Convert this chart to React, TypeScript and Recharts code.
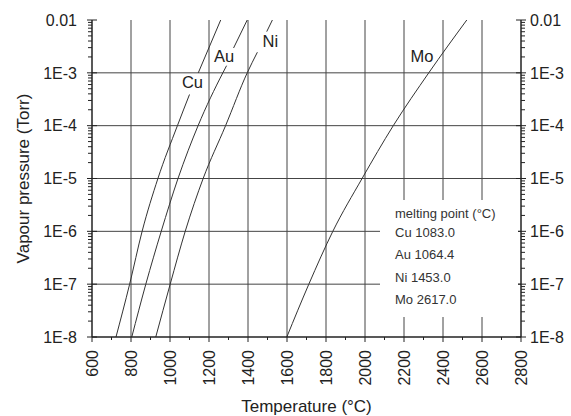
import { LineChart, Line, XAxis, YAxis, ReferenceLine, Legend, LabelList } from 'recharts'

const tempMajor = [600, 800, 1000, 1200, 1400, 1600, 1800, 2000, 2200, 2400, 2600, 2800]
const tempMinor = [700, 900, 1100, 1300, 1500, 1700, 1900, 2100, 2300, 2500, 2700]
const decadeExps = [-8, -7, -6, -5, -4, -3, -2]
const decadeLabels = ['1E-8', '1E-7', '1E-6', '1E-5', '1E-4', '1E-3', '0.01']
const gridTemps = [800, 1000, 1200, 1400, 1600, 1800, 2000, 2200, 2400, 2600]
const gridExps = [-7, -6, -5, -4, -3]

// vapour pressure curves: temperature (°C) vs log10(p / Torr)
// the lower/upper pieces leave a gap where the element name sits
const cuTemp = [723, 793, 857, 938, 1038, 1100]
const cuLogP = [-8, -7, -6, -5, -4, -3.41]
const cuTopTemp = [1145, 1260]
const cuTopLogP = [-3.0, -2.0]
const auTemp = [804, 876, 955, 1041, 1144, 1271, 1290]
const auLogP = [-8, -7, -6, -5, -4, -3, -2.865]
const auTopTemp = [1326, 1396]
const auTopLogP = [-2.53, -2.0]
const niTemp = [927, 1001, 1078, 1170, 1285, 1396, 1448]
const niLogP = [-8, -7, -6, -5, -4, -3, -2.61]
const niTopTemp = [1496, 1525]
const niTopLogP = [-2.22, -2.0]
const moTemp = [1599, 1712, 1835, 1985, 2145, 2327, 2522]
const moLogP = [-8, -7, -6, -5, -4, -3, -2]

const metals = ['Cu', 'Au', 'Ni', 'Mo']
const meltingPoints = ['1083.0', '1064.4', '1453.0', '2617.0']

const font = '"Liberation Sans", Arial, sans-serif'
const textColor = '#222'
const axisColor = '#222'
const gridColor = '#444'
const curveColor = '#333'

const zip = (ts: number[], ps: number[]) => ts.map((t, i) => ({ t, p: ps[i] }))

const curves = [
  { name: 'Cu', lower: zip(cuTemp, cuLogP), upper: zip(cuTopTemp, cuTopLogP), labelAt: 5, dx: 3, dy: -12.8 },
  { name: 'Au', lower: zip(auTemp, auLogP), upper: zip(auTopTemp, auTopLogP), labelAt: 6, dx: -2.5, dy: -9.7 },
  { name: 'Ni', lower: zip(niTemp, niLogP), upper: zip(niTopTemp, niTopLogP), labelAt: 6, dx: 13, dy: -11 },
  { name: 'Mo', lower: zip(moTemp, moLogP), upper: null, labelAt: 5, dx: -6.7, dy: -16.3 },
]

// log axis ticks: every 1..9 x 10^n, expressed as exponents
const yTicks = decadeExps.flatMap((n) =>
  n === -2 ? [n] : [1, 2, 3, 4, 5, 6, 7, 8, 9].map((k) => n + Math.log10(k))
)
const xTicks = [...tempMajor, ...tempMinor].sort((a, b) => a - b)

const isDecade = (v: number) => Math.abs(v - Math.round(v)) < 1e-6
const decadeLabel = (v: number) => decadeLabels[decadeExps.indexOf(Math.round(v))]

function LeftTick({ x, y, payload }: any) {
  const major = isDecade(payload.value)
  return (
    <g>
      <line x1={x - (major ? 5 : 4)} x2={major ? x + 5 : x} y1={y} y2={y} stroke={axisColor} />
      {major && (
        <text x={x - 15} y={y} dy="0.36em" textAnchor="end" fontSize={16} fill={textColor} fontFamily={font}>
          {decadeLabel(payload.value)}
        </text>
      )}
    </g>
  )
}

function RightTick({ x, y, payload }: any) {
  const major = isDecade(payload.value)
  return (
    <g>
      <line x1={major ? x - 5 : x} x2={x + (major ? 5 : 4)} y1={y} y2={y} stroke={axisColor} />
      {major && (
        <text x={x + 9} y={y} dy="0.36em" textAnchor="start" fontSize={16} fill={textColor} fontFamily={font}>
          {decadeLabel(payload.value)}
        </text>
      )}
    </g>
  )
}

function BottomTick({ x, y, payload }: any) {
  const major = payload.value % 200 === 0
  return (
    <g>
      <line x1={x} x2={x} y1={y} y2={y + (major ? 5 : 3)} stroke={axisColor} />
      {major && (
        <text
          x={x}
          y={y + 13}
          dy="0.36em"
          textAnchor="end"
          transform={`rotate(-90 ${x} ${y + 13})`}
          fontSize={16}
          fill={textColor}
          fontFamily={font}
        >
          {payload.value}
        </text>
      )}
    </g>
  )
}

function TopTick({ x, y, payload }: any) {
  const major = payload.value % 200 === 0
  return <line x1={x} x2={x} y1={y} y2={y - (major ? 5 : 3)} stroke={axisColor} />
}

function YTitle({ viewBox }: any) {
  const cx = viewBox.x + 23
  const cy = viewBox.y + viewBox.height / 2
  return (
    <text
      x={cx}
      y={cy}
      dy="0.36em"
      textAnchor="middle"
      transform={`rotate(-90 ${cx} ${cy})`}
      fontSize={17}
      fill={textColor}
      fontFamily={font}
    >
      Vapour pressure (Torr)
    </text>
  )
}

function MeltingLegend() {
  return (
    <div
      style={{
        background: '#fff',
        width: 138,
        height: 117,
        boxSizing: 'border-box',
        padding: '6px 0 0 15px',
        fontSize: 13,
        color: '#333',
        fontFamily: font,
        textAlign: 'left',
      }}
    >
      <div style={{ lineHeight: '16px' }}>melting point (°C)</div>
      {metals.map((m, i) => (
        <div key={m} style={{ lineHeight: '22.3px' }}>
          {m} {meltingPoints[i]}
        </div>
      ))}
    </div>
  )
}

const curveLabel = (name: string, at: number, dx: number, dy: number) => (props: any) =>
  props.index === at ? (
    <text
      x={props.x + dx}
      y={props.y + dy}
      dy="0.36em"
      textAnchor="middle"
      fontSize={16.5}
      fill={textColor}
      fontFamily={font}
    >
      {name}
    </text>
  ) : null

export default function App() {
  return (
    <div style={{ position: 'absolute', left: 0, top: 0, width: 571, height: 416, background: '#fff' }}>
      <LineChart width={571} height={416} margin={{ top: 20, right: 0, bottom: 0, left: 0 }}>
        <XAxis
          dataKey="t"
          type="number"
          domain={[600, 2800]}
          ticks={xTicks}
          interval={0}
          allowDataOverflow
          height={79}
          tickSize={0}
          tickMargin={0}
          tickLine={false}
          tick={<BottomTick />}
          axisLine={{ stroke: axisColor, strokeWidth: 1.5 }}
          label={{ value: 'Temperature (°C)', position: 'insideBottom', offset: 4, fontSize: 17, fill: textColor, fontFamily: font }}
        />
        <XAxis
          xAxisId="top"
          orientation="top"
          type="number"
          domain={[600, 2800]}
          ticks={xTicks}
          interval={0}
          allowDataOverflow
          height={0}
          tickSize={0}
          tickMargin={0}
          tickLine={false}
          tick={<TopTick />}
          axisLine={{ stroke: axisColor, strokeWidth: 1.5 }}
        />
        <YAxis
          type="number"
          domain={[-8, -2]}
          ticks={yTicks}
          interval={0}
          allowDataOverflow
          width={92}
          tickSize={0}
          tickMargin={0}
          tickLine={false}
          tick={<LeftTick />}
          axisLine={{ stroke: axisColor, strokeWidth: 1.5 }}
          label={<YTitle />}
        />
        <YAxis
          yAxisId="right"
          orientation="right"
          type="number"
          domain={[-8, -2]}
          ticks={yTicks}
          interval={0}
          allowDataOverflow
          width={50}
          tickSize={0}
          tickMargin={0}
          tickLine={false}
          tick={<RightTick />}
          axisLine={{ stroke: axisColor, strokeWidth: 1.5 }}
        />
        {gridTemps.map((t) => (
          <ReferenceLine key={`gx${t}`} x={t} stroke={gridColor} strokeWidth={1} />
        ))}
        {gridExps.map((e) => (
          <ReferenceLine key={`gy${e}`} y={e} stroke={gridColor} strokeWidth={1} />
        ))}
        {curves.map((c) => (
          <Line
            key={`${c.name}-lo`}
            data={c.lower}
            dataKey="p"
            type="monotone"
            stroke={curveColor}
            strokeWidth={1}
            dot={false}
            isAnimationActive={false}
            legendType="none"
          >
            <LabelList dataKey="p" content={curveLabel(c.name, c.labelAt, c.dx, c.dy)} />
          </Line>
        ))}
        {curves
          .filter((c) => c.upper)
          .map((c) => (
            <Line
              key={`${c.name}-hi`}
              data={c.upper as any}
              dataKey="p"
              type="monotone"
              stroke={curveColor}
              strokeWidth={1}
              dot={false}
              isAnimationActive={false}
              legendType="none"
            />
          ))}
        <Legend
          layout="vertical"
          align="center"
          verticalAlign="middle"
          content={<MeltingLegend />}
          wrapperStyle={{ left: 380, top: 200, width: 138, height: 117 }}
        />
      </LineChart>
    </div>
  )
}
